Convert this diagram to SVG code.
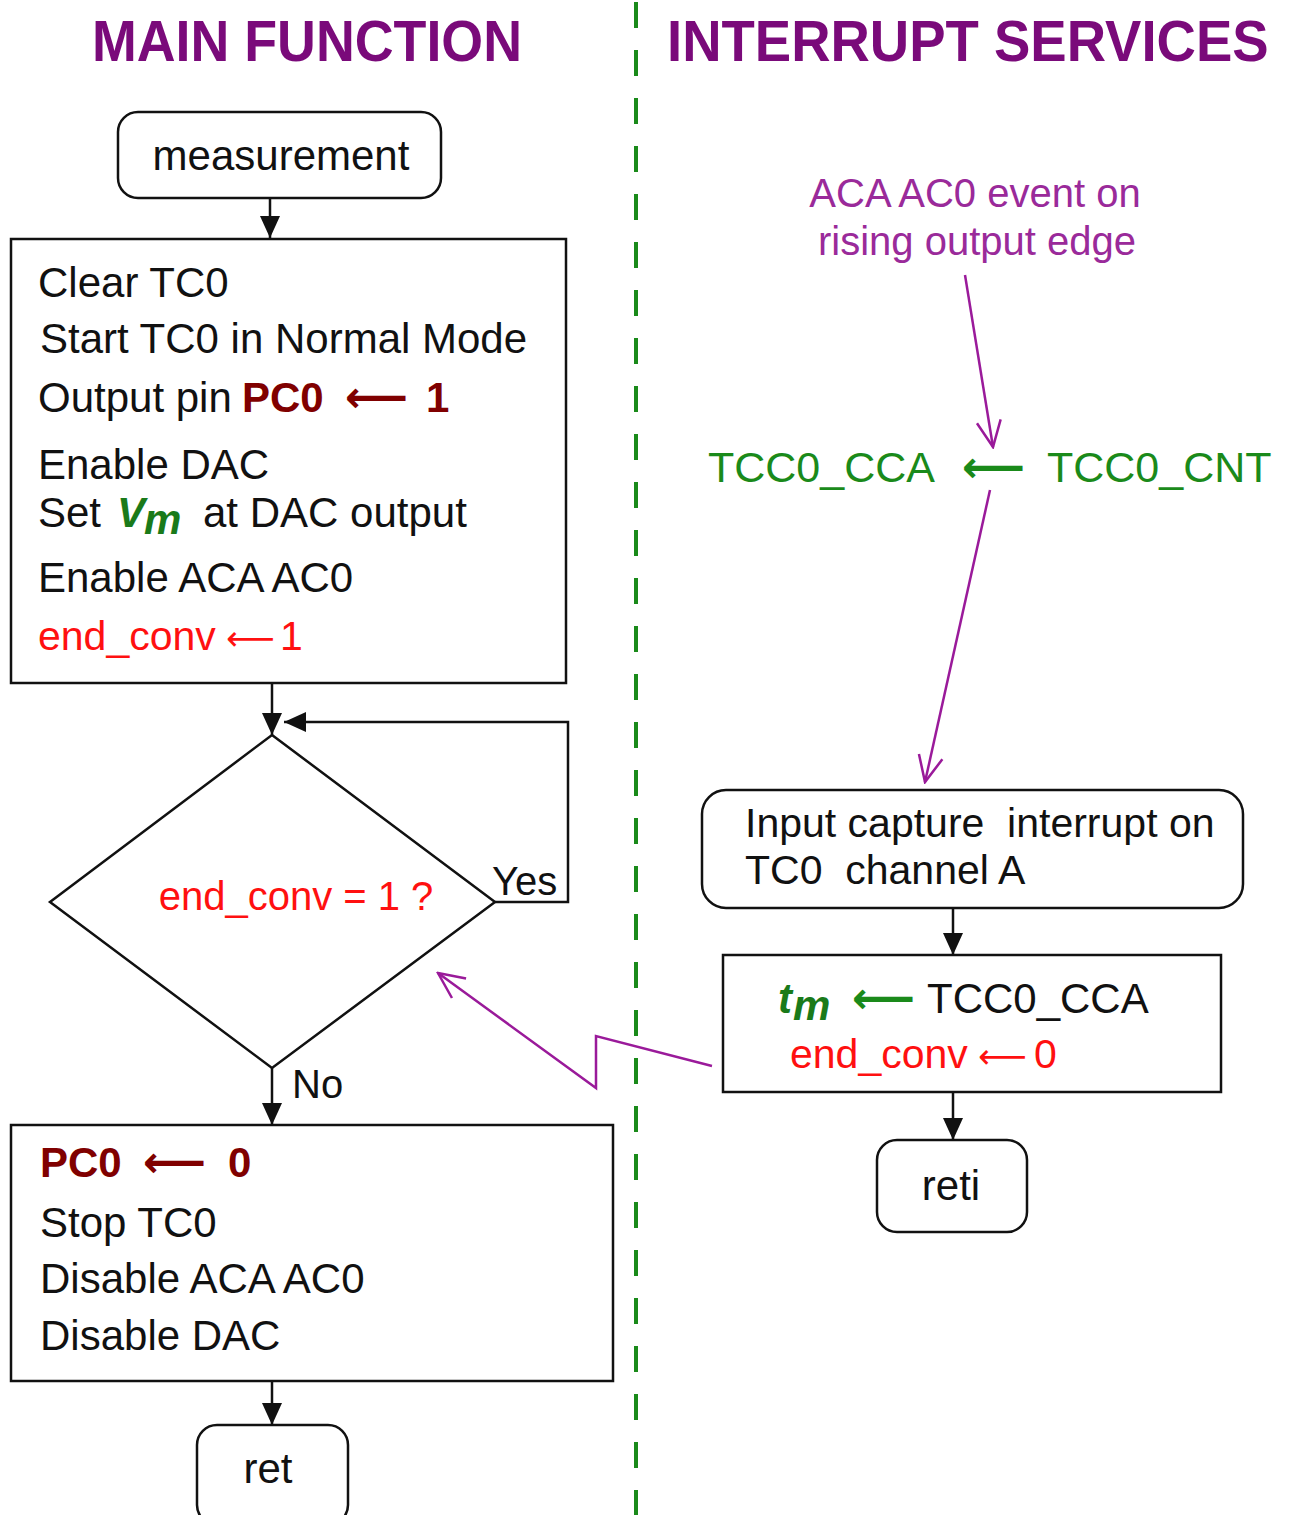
<svg xmlns="http://www.w3.org/2000/svg" width="1292" height="1515" viewBox="0 0 1292 1515">
<defs>
<style>
text{font-family:"Liberation Sans",Arial,sans-serif;}
.t{font-size:42px;fill:#111;}
.title{font-size:58px;font-weight:bold;fill:#7a0a7a;}
.red{fill:#ff1010;}
.dred{fill:#800000;font-weight:bold;}
.grn{fill:#1a8a1a;}
.var{fill:#1a7a1a;font-weight:bold;font-style:italic;}
.box{fill:#fff;stroke:#111;stroke-width:2.5;}
.ln{fill:none;stroke:#111;stroke-width:2.5;}
.pl{fill:none;stroke:#9a1a9a;stroke-width:2.5;}
.ar{font-family:"DejaVu Sans",sans-serif;}
</style>
<marker id="ah" viewBox="0 0 22 20" markerWidth="22" markerHeight="20" refX="22" refY="10" orient="auto" markerUnits="userSpaceOnUse">
<path d="M0,0 L22,10 L0,20 z" fill="#111"/>
</marker>
<marker id="pah" viewBox="0 0 30 30" markerWidth="30" markerHeight="30" refX="28" refY="15" orient="auto" markerUnits="userSpaceOnUse">
<path d="M2,3 L28,15 L2,27" fill="none" stroke="#9a1a9a" stroke-width="2.5"/>
</marker>
</defs>
<rect width="1292" height="1515" fill="#fff"/>

<g id="titles">
<text class="title" transform="translate(92,61) scale(0.927,1)">MAIN FUNCTION</text>
<text class="title" transform="translate(667,61) scale(0.94,1)">INTERRUPT SERVICES</text>
</g>

<g id="divider">
<line x1="636" y1="2" x2="636" y2="1515" stroke="#1a8a1a" stroke-width="4" stroke-dasharray="26 22"/>
</g>

<g id="connectors">
<line class="ln" x1="270" y1="198" x2="270" y2="238" marker-end="url(#ah)"/>
<line class="ln" x1="272" y1="683" x2="272" y2="735" marker-end="url(#ah)"/>
<polyline class="ln" points="495,902 568,902 568,722 284,722" marker-end="url(#ah)"/>
<line class="ln" x1="272" y1="1068" x2="272" y2="1125" marker-end="url(#ah)"/>
<line class="ln" x1="272" y1="1381" x2="272" y2="1425" marker-end="url(#ah)"/>
<line class="ln" x1="953" y1="908" x2="953" y2="955" marker-end="url(#ah)"/>
<line class="ln" x1="953" y1="1092" x2="953" y2="1140" marker-end="url(#ah)"/>
<line class="pl" x1="965" y1="275" x2="993" y2="447" marker-end="url(#pah)"/>
<line class="pl" x1="990" y1="490" x2="925" y2="782" marker-end="url(#pah)"/>
<polyline class="pl" points="712,1066 596,1036 596,1088 438,973" marker-end="url(#pah)"/>
<text x="492" y="895" class="t" style="font-size:40px">Yes</text>
<text x="292" y="1098" class="t" style="font-size:40px">No</text>
</g>

<g id="measurement">
<rect class="box" x="118" y="112" width="323" height="86" rx="20"/>
<text class="t" x="281" y="170" text-anchor="middle">measurement</text>
</g>

<g id="init">
<rect class="box" x="11" y="239" width="555" height="444"/>
<text class="t" x="38" y="297">Clear TC0</text>
<text class="t" x="40" y="353">Start TC0 in Normal Mode</text>
<text class="t" x="38" y="412">Output pin <tspan class="dred" x="242">PC0</tspan><tspan class="dred ar" x="345" style="font-size:44px">⟵</tspan><tspan class="dred" x="426">1</tspan></text>
<text class="t" x="38" y="479">Enable DAC</text>
<text class="t" x="38" y="527">Set <tspan class="var" x="117">V</tspan><tspan class="var" x="144" dy="7">m</tspan><tspan x="203" dy="-7">at DAC output</tspan></text>
<text class="t" x="38" y="592">Enable ACA AC0</text>
<text class="t red" x="38" y="650" style="font-size:41px">end_conv<tspan class="ar" x="226" style="font-size:34px">⟵</tspan><tspan x="280">1</tspan></text>
</g>

<g id="decision">
<polygon class="box" points="272,735 495,902 272,1068 50,902"/>
<text class="t red" x="296" y="910" text-anchor="middle" style="font-size:40px">end_conv = 1 ?</text>
</g>

<g id="finish">
<rect class="box" x="11" y="1125" width="602" height="256"/>
<text class="t dred" x="40" y="1177">PC0<tspan class="ar" x="143" style="font-size:44px">⟵</tspan><tspan x="228">0</tspan></text>
<text class="t" x="40" y="1237">Stop TC0</text>
<text class="t" x="40" y="1293">Disable ACA AC0</text>
<text class="t" x="40" y="1350">Disable DAC</text>
</g>

<g id="ret">
<rect class="box" x="197" y="1425" width="151" height="100" rx="20"/>
<text class="t" x="268" y="1483" text-anchor="middle">ret</text>
</g>

<g id="event">
<text x="975" y="207" text-anchor="middle" style="font-size:40px;fill:#9a2a9a">ACA AC0 event on</text>
<text x="977" y="255" text-anchor="middle" style="font-size:40px;fill:#9a2a9a">rising output edge</text>
</g>

<g id="capture-reg">
<text class="grn" x="708" y="482" style="font-size:43px">TCC0_CCA</text>
<text class="grn ar" x="962" y="482" style="font-size:44px;font-weight:bold">⟵</text>
<text class="grn" x="1047" y="482" style="font-size:43px">TCC0_CNT</text>
</g>

<g id="isr">
<rect class="box" x="702" y="790" width="541" height="118" rx="24"/>
<text class="t" x="745" y="837" style="font-size:41px;white-space:pre" xml:space="preserve">Input capture  interrupt on</text>
<text class="t" x="745" y="884" style="font-size:41px;white-space:pre" xml:space="preserve">TC0  channel A</text>
</g>

<g id="isr-body">
<rect class="box" x="723" y="955" width="498" height="137"/>
<text class="t" x="778" y="1013"><tspan class="var">t</tspan><tspan class="var" x="793" dy="7">m</tspan><tspan class="grn ar" x="852" dy="-7" style="font-size:44px;font-weight:bold">⟵</tspan><tspan x="927">TCC0_CCA</tspan></text>
<text class="t red" x="790" y="1068" style="font-size:41px">end_conv<tspan class="ar" x="978" style="font-size:34px">⟵</tspan><tspan x="1034">0</tspan></text>
</g>

<g id="reti">
<rect class="box" x="877" y="1140" width="150" height="92" rx="20"/>
<text class="t" x="951" y="1200" text-anchor="middle">reti</text>
</g>
</svg>
